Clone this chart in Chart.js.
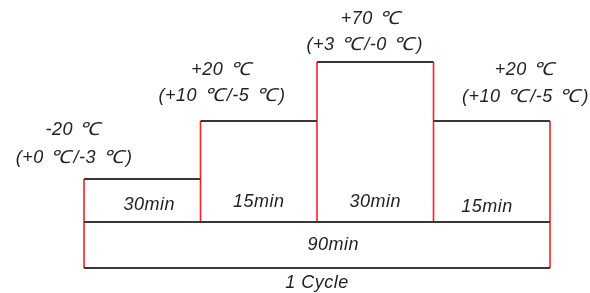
<!DOCTYPE html>
<html>
<head>
<meta charset="utf-8">
<script src="https://cdn.jsdelivr.net/npm/chart.js@4.4.1/dist/chart.umd.min.js"></script>
<style>
  html, body { margin: 0; padding: 0; background: #fff; }
  #wrap { width: 590px; height: 293px; position: relative; }
</style>
</head>
<body>
<div id="wrap"><canvas id="cycle"></canvas></div>
<script>
// ── TEMPERATURE CYCLE PROFILE ────────────────────────────────────
// One test cycle drawn as a schematic step profile.

const temps      = ['-20 ℃', '+20 ℃', '+70 ℃', '+20 ℃'];
const tolerances = ['(+0 ℃/-3 ℃)', '(+10 ℃/-5 ℃)', '(+3 ℃/-0 ℃)', '(+10 ℃/-5 ℃)'];
const durations  = ['30min', '15min', '30min', '15min'];
const totalLabel = '90min';
const cycleLabel = '1 Cycle';

// schematic step heights (not to scale), baseline = 0
const stepLevels  = [43, 101, 160, 101];
const bottomLevel = -46;

// label anchors in axis units
const tempAnchor  = [[-0.085, 92], [1.185, 152], [2.47, 203], [3.79, 152]];
const tolAnchor   = [[-0.085, 64], [1.185, 126], [2.41, 177], [3.79, 125]];
const durAnchor   = [[0.56, 17], [1.5, 20], [2.5, 20], [3.46, 15]];
const totalAnchor = [2.14, -23];
const cycleAnchor = [2.0, -61];

const DARK = '#383838';
const RED  = '#ff2020';
const TEXT_FONT = "italic 18px 'Liberation Sans', Arial, sans-serif";
const DEG_STRETCH = 1.15;  // the degree glyph is a little wider in the source
const DEG_PAD_L = 1, DEG_PAD_R = 2;

// step tops
const tops = [];
stepLevels.forEach((lv, i) => {
  tops.push({ x: i, y: lv }, { x: i + 1, y: lv }, { x: i + 1, y: null });
});

// red step edges
const edges = [];
for (let b = 0; b <= stepLevels.length; b++) {
  const hi = Math.max(stepLevels[b - 1] ?? -Infinity, stepLevels[b] ?? -Infinity);
  const lo = (b === 0 || b === stepLevels.length) ? bottomLevel : 0;
  edges.push({ x: b, y: hi }, { x: b, y: lo }, { x: b, y: null });
}

// baseline + cycle bar
const n = stepLevels.length;
const bars = [
  { x: 0, y: 0 }, { x: n, y: 0 }, { x: n, y: null },
  { x: 0, y: bottomLevel }, { x: n, y: bottomLevel },
];

// draw centred text, widening each ℃ a bit
function drawMixed(ctx, txt, cx, cy) {
  ctx.font = TEXT_FONT;
  const parts = txt.split(/(℃)/).filter(Boolean).map(s => {
    const deg = s === '℃';
    const w = ctx.measureText(s).width;
    return { s, deg, w: deg ? w * DEG_STRETCH + DEG_PAD_L + DEG_PAD_R : w };
  });
  const total = parts.reduce((a, p) => a + p.w, 0);
  let xx = cx - total / 2;
  for (const p of parts) {
    if (p.deg) {
      ctx.save();
      ctx.translate(xx + DEG_PAD_L, cy);
      ctx.scale(DEG_STRETCH, 1);
      ctx.fillText(p.s, 0, 0);
      ctx.restore();
    } else {
      ctx.fillText(p.s, xx, cy);
    }
    xx += p.w;
  }
}

const labelPlugin = {
  id: 'cycleLabels',
  afterDatasetsDraw(chart) {
    const { ctx, scales: { x, y } } = chart;
    ctx.save();
    ctx.fillStyle = '#222';
    ctx.textAlign = 'left';
    ctx.textBaseline = 'middle';
    if ('letterSpacing' in ctx) ctx.letterSpacing = '0.5px';
    const put = (txt, [ax, ay]) => drawMixed(ctx, txt, x.getPixelForValue(ax), y.getPixelForValue(ay));
    temps.forEach((t, i) => put(t, tempAnchor[i]));
    tolerances.forEach((t, i) => put(t, tolAnchor[i]));
    durations.forEach((t, i) => put(t, durAnchor[i]));
    put(totalLabel, totalAnchor);
    put(cycleLabel, cycleAnchor);
    ctx.restore();
  },
};

const line = (data, color, width) => ({
  data, borderColor: color, borderWidth: width,
  pointRadius: 0, showLine: true, spanGaps: false, tension: 0,
});

new Chart(document.getElementById('cycle'), {
  type: 'scatter',
  data: {
    datasets: [
      line(tops, DARK, 2),
      line(bars, DARK, 2),
      line(edges, RED, 1.6),
    ],
  },
  options: {
    responsive: true,
    maintainAspectRatio: false,
    animation: false,
    layout: { padding: 0 },
    plugins: { legend: { display: false }, tooltip: { enabled: false } },
    scales: {
      x: { type: 'linear', min: -84 / 116.5, max: 506 / 116.5, display: false },
      y: { type: 'linear', min: -71, max: 222, display: false },
    },
  },
  plugins: [labelPlugin],
});
</script>
</body>
</html>
